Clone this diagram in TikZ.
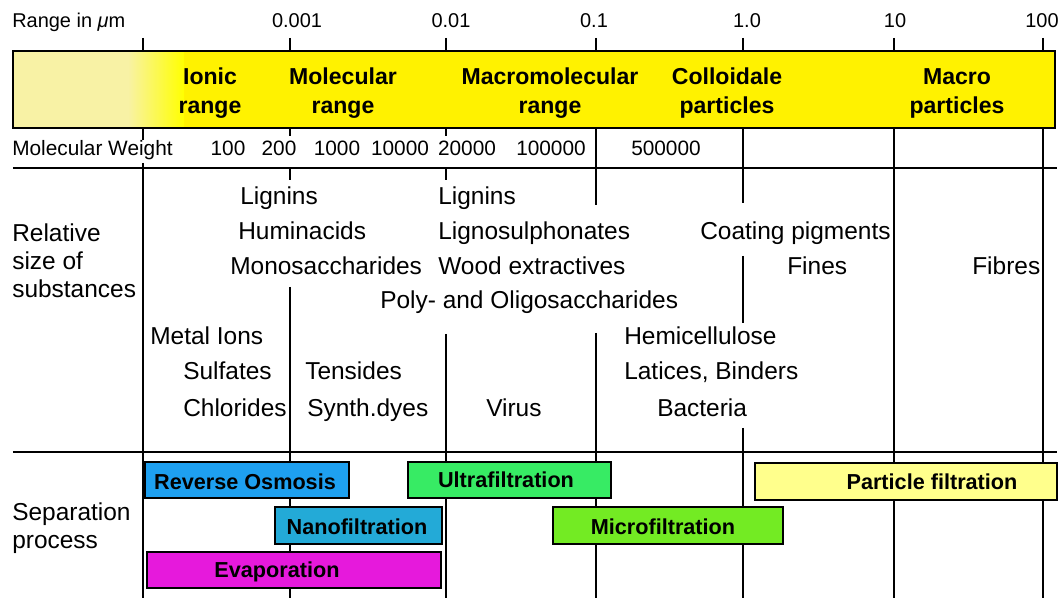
\documentclass[tikz,border=0pt]{standalone}
\usepackage{fontspec}
\setmainfont{Liberation Sans}
\definecolor{barpale}{RGB}{248,242,165}
\definecolor{roblue}{RGB}{30,160,240}
\definecolor{nanoblue}{RGB}{35,170,215}
\definecolor{evapmag}{RGB}{230,25,220}
\definecolor{ultragreen}{RGB}{55,235,100}
\definecolor{microgreen}{RGB}{115,235,35}
\definecolor{partyellow}{RGB}{255,255,140}

\begin{document}
\begin{tikzpicture}[
  gridline/.style={line width=1.2pt},
  hdr/.style={anchor=base, inner sep=0pt, font=\fontsize{14.2}{17}\selectfont},
  mw/.style={anchor=base, inner sep=0pt, font=\fontsize{14.8}{17}\selectfont},
  rng/.style={align=center, inner sep=0pt, font=\bfseries\fontsize{16.4}{20.6}\selectfont},
  sub/.style={anchor=base west, inner sep=0pt, font=\fontsize{17.4}{20}\selectfont},
  proc/.style={draw, line width=1.5pt},
  plab/.style={anchor=base, inner sep=0pt, font=\bfseries\fontsize{15.4}{18}\selectfont}]
 \useasboundingbox (0,0) rectangle (26.575,14.95);

 % size bar
 \fill[yellow] (0.325,11.75) rectangle (26.375,13.675);
 \fill[barpale] (0.325,11.75) rectangle (3.2,13.675);
 \shade[left color=barpale, right color=yellow] (3.2,11.75) rectangle (4.6,13.675);
 \draw[line width=1.6pt] (0.325,11.75) rectangle (26.375,13.675);

 % scale lines
 \foreach \x in {3.575,7.25,11.15,14.9,18.575,22.35,26.075}
  \draw[gridline] (\x,14.0) -- (\x,13.675);
 \draw[gridline] (3.575,11.75) -- (3.575,11.45) (3.575,10.875) -- (3.575,0);
 \draw[gridline] (7.25,11.75) -- (7.25,11.55) (7.25,10.75) -- (7.25,10.45) (7.25,7.775) -- (7.25,0);
 \draw[gridline] (11.15,11.75) -- (11.15,11.55) (11.15,10.75) -- (11.15,10.45) (11.15,6.6) -- (11.15,0);
 \draw[gridline] (14.9,11.75) -- (14.9,9.825) (14.9,6.625) -- (14.9,0);
 \draw[gridline] (18.575,11.75) -- (18.575,9.875) (18.575,8.55) -- (18.575,6.875) (18.575,4.25) -- (18.575,0);
 \draw[gridline] (22.35,11.75) -- (22.35,0);
 \draw[gridline] (26.075,11.75) -- (26.075,0);
 \draw[line width=1pt] (0.325,10.75) -- (26.425,10.75);
 \draw[line width=1pt] (0.325,3.65) -- (26.425,3.65);

 % header
 \node[hdr, anchor=base west] (rangelab) at (0.3,14.27) {Range in {\itshape μ}m};
 \node[hdr] (sc1) at (7.425,14.27) {0.001};
 \node[hdr] (sc2) at (11.275,14.27) {0.01};
 \node[hdr] (sc3) at (14.85,14.27) {0.1};
 \node[hdr] (sc4) at (18.675,14.27) {1.0};
 \node[hdr] (sc5) at (22.375,14.27) {10};
 \node[hdr] (sc6) at (26.05,14.27) {100};

 % ranges
 \node[rng] (ionic) at (5.25,12.625) {Ionic\\range};
 \node[rng] (molec) at (8.575,12.625) {Molecular\\range};
 \node[rng] (macromol) at (13.75,12.625) {Macromolecular\\range};
 \node[rng] (colloid) at (18.175,12.625) {Colloidale\\particles};
 \node[rng] (macro) at (23.925,12.625) {Macro\\particles};

 % molecular weight
 \node[mw, anchor=base west] (mwlab) at (0.3,11.05) {Molecular Weight};
 \node[mw] (mw1) at (5.7,11.05) {100};
 \node[mw] (mw2) at (6.975,11.05) {200};
 \node[mw] (mw3) at (8.425,11.05) {1000};
 \node[mw] (mw4) at (10.0,11.05) {10000};
 \node[mw] (mw5) at (11.675,11.05) {20000};
 \node[mw] (mw6) at (13.775,11.05) {100000};
 \node[mw] (mw7) at (16.65,11.05) {500000};

 % relative size
 \node[sub] (rel1) at (0.3,8.9) {Relative};
 \node[sub] (rel2) at (0.3,8.2) {size of};
 \node[sub] (rel3) at (0.3,7.5) {substances};
 \node[sub] (lig1) at (6.0,9.825) {Lignins};
 \node[sub] (humin) at (5.95,8.95) {Huminacids};
 \node[sub] (mono) at (5.75,8.075) {Monosaccharides};
 \node[sub] (lig2) at (10.95,9.825) {Lignins};
 \node[sub] (lignos) at (10.95,8.95) {Lignosulphonates};
 \node[sub] (wood) at (10.95,8.075) {Wood extractives};
 \node[sub] (poly) at (9.5,7.225) {Poly- and Oligosaccharides};
 \node[sub] (metal) at (3.75,6.325) {Metal Ions};
 \node[sub] (sulf) at (4.575,5.45) {Sulfates};
 \node[sub] (chlor) at (4.575,4.525) {Chlorides};
 \node[sub] (tens) at (7.625,5.45) {Tensides};
 \node[sub] (dyes) at (7.675,4.525) {Synth.dyes};
 \node[sub] (virus) at (12.15,4.525) {Virus};
 \node[sub] (coat) at (17.5,8.95) {Coating pigments};
 \node[sub] (fines) at (19.675,8.075) {Fines};
 \node[sub] (fibres) at (24.3,8.075) {Fibres};
 \node[sub] (hemi) at (15.6,6.325) {Hemicellulose};
 \node[sub] (latic) at (15.6,5.45) {Latices, Binders};
 \node[sub] (bact) at (16.425,4.525) {Bacteria};

 % separation process
 \node[sub] (sep1) at (0.3,1.925) {Separation};
 \node[sub] (sep2) at (0.3,1.225) {process};
 \draw[proc, fill=roblue] (3.625,2.5) rectangle (8.725,3.4);
 \draw[proc, fill=nanoblue] (6.875,1.35) rectangle (11.05,2.275);
 \draw[proc, fill=evapmag] (3.675,0.25) rectangle (11.025,1.15);
 \draw[proc, fill=ultragreen] (10.2,2.5) rectangle (15.275,3.4);
 \draw[proc, fill=microgreen] (13.825,1.35) rectangle (19.575,2.275);
 \draw[proc, fill=partyellow] (18.875,2.45) rectangle (26.425,3.375);
 \node[plab] (ro) at (6.125,2.7) {Reverse Osmosis};
 \node[plab] (nano) at (8.925,1.575) {Nanofiltration};
 \node[plab] (evap) at (6.925,0.5) {Evaporation};
 \node[plab] (ultra) at (12.65,2.75) {Ultrafiltration};
 \node[plab] (micro) at (16.575,1.575) {Microfiltration};
 \node[plab] (partf) at (23.3,2.7) {Particle filtration};
\end{tikzpicture}
\end{document}
